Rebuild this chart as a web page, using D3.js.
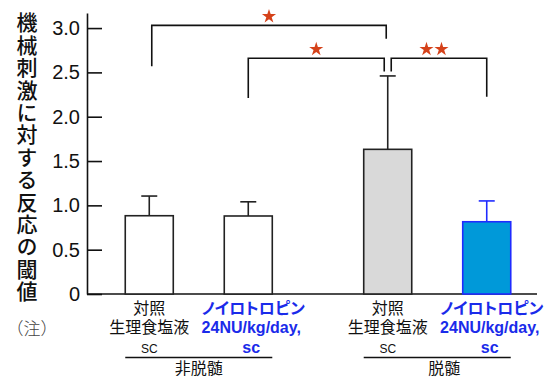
<!DOCTYPE html>
<html><head><meta charset="utf-8">
<script src="https://cdn.jsdelivr.net/npm/d3@7"></script>
<style>
body{margin:0;background:#fff}
svg{display:block}
</style></head><body>
<svg id="c" width="546" height="378"></svg>
<script>
// ---- data ----
const groups = ["非脱髄", "脱髄"];
const barGroup = [0, 0, 1, 1];
const barSlot = [0, 1, 0, 1];
const means = [0.883, 0.88, 1.632, 0.815];
const errors = [0.222, 0.16, 0.828, 0.235];
const labelLine1 = ["対照", "ノイロトロピン", "対照", "ノイロトロピン"];
const labelLine2 = ["生理食塩液", "24NU/kg/day,", "生理食塩液", "24NU/kg/day,"];
const labelLine3 = ["SC", "sc", "SC", "sc"];
const yTicks = [0, 0.5, 1, 1.5, 2, 2.5, 3];
const yTitle = "機械刺激に対する反応の閾値";
const note = "（注）";
const bracketFrom = [0, 1, 2];
const bracketTo = [2, 2, 3];
const bracketTop = [3.03, 2.66, 2.66];
const bracketLeftEnd = [2.57, 2.21, 2.51];
const bracketRightEnd = [2.88, 2.51, 2.225];
const bracketStars = [1, 1, 2];

// ---- styles ----
const barFill = ["#ffffff", "#ffffff", "#d9d9d9", "#0099d9"];
const barStroke = ["#222222", "#222222", "#222222", "#1f2bff"];
const blue = "#1a2bea";
const labelIsBlue = [false, true, false, true];
const bracketLeftOff = [2.5, 0, 3.5];
const bracketRightOff = [-1.5, -3.5, 0];
const JP = '"Noto Sans CJK JP", sans-serif';
const LAT = '"Liberation Sans", Arial, sans-serif';

const svg = d3.select("#c");

const y = d3.scaleLinear().domain([0, 3.17]).range([294, 13]);
const x0 = d3.scaleBand().domain(groups).range([101, 535]).paddingInner(0.18);
const x1 = d3.scaleBand().domain([0, 1]).range([0, x0.bandwidth()]).paddingInner(0.515).paddingOuter(0.245);
const bw = x1.bandwidth();
const barX = i => x0(groups[barGroup[i]]) + x1(barSlot[i]);
const cx = i => barX(i) + bw / 2;
const idx = means.map((_, i) => i);

// y axis
const axisX = 87;
const ax = svg.append("g").attr("transform", `translate(${axisX},0)`)
  .call(d3.axisLeft(y).tickValues(yTicks).tickSize(-15).tickSizeOuter(0).tickPadding(7)
    .tickFormat(d => d === 0 ? "0" : d3.format(".1f")(d)));
ax.selectAll("path,line").attr("stroke", "#111").attr("stroke-width", 1.6);
ax.selectAll("text").attr("font-family", LAT).attr("font-size", 20).attr("fill", "#111");

// baseline
svg.append("line").attr("x1", axisX).attr("x2", 537).attr("y1", y(0)).attr("y2", y(0))
  .attr("stroke", "#111").attr("stroke-width", 1.6);

// error bars
const eb = svg.append("g");
idx.forEach(i => {
  const c = cx(i);
  eb.append("line").attr("x1", c).attr("x2", c).attr("y1", y(means[i])).attr("y2", y(means[i] + errors[i]))
    .attr("stroke", barStroke[i]).attr("stroke-width", 1.6);
  eb.append("line").attr("x1", c - 8).attr("x2", c + 8).attr("y1", y(means[i] + errors[i])).attr("y2", y(means[i] + errors[i]))
    .attr("stroke", barStroke[i]).attr("stroke-width", 1.6);
});

// bars
svg.append("g").selectAll("rect").data(idx).join("rect")
  .attr("x", i => barX(i)).attr("width", bw)
  .attr("y", i => y(means[i])).attr("height", i => y(0) - y(means[i]))
  .attr("fill", i => barFill[i]).attr("stroke", i => barStroke[i]).attr("stroke-width", 1.6);

// brackets
const br = svg.append("g");
bracketFrom.forEach((f, k) => {
  const xl = cx(f) + bracketLeftOff[k], xr = cx(bracketTo[k]) + bracketRightOff[k];
  br.append("path")
    .attr("d", `M${xl},${y(bracketLeftEnd[k])}V${y(bracketTop[k])}H${xr}V${y(bracketRightEnd[k])}`)
    .attr("fill", "none").attr("stroke", "#111").attr("stroke-width", 1.6);
  const mid = (xl + xr) / 2;
  const n = bracketStars[k];
  for (let s = 0; s < n; s++) {
    const sx = mid + (s - (n - 1) / 2) * 15 - (n > 1 ? 5 : 0);
    br.append("path").attr("d", d3.symbol().type(d3.symbolStar).size(62)())
      .attr("transform", `translate(${sx},${y(bracketTop[k]) - 9})`)
      .attr("fill", "#d5421a");
  }
});

// y title (vertical)
svg.append("text").text(yTitle)
  .attr("x", 27).attr("y", 12)
  .attr("writing-mode", "vertical-rl")
  .attr("font-family", JP).attr("font-size", 21).attr("font-weight", 500)
  .attr("letter-spacing", 1.4).attr("fill", "#111");

svg.append("text").text(note).attr("x", 32).attr("y", 335).attr("text-anchor", "middle")
  .attr("font-family", JP).attr("font-size", 17).attr("font-weight", 300).attr("fill", "#444");

// x labels
const lab = svg.append("g");
idx.forEach(i => {
  const c = cx(i);
  const b = labelIsBlue[i];
  lab.append("text").text(labelLine1[i]).attr("x", c + (b ? 5 : 0)).attr("y", 314).attr("text-anchor", "middle")
    .attr("font-family", JP).attr("font-size", 16).attr("font-weight", b ? 700 : 400)
    .style("font-feature-settings", b ? '"palt"' : null)
    .attr("fill", b ? blue : "#111");
  lab.append("text").text(labelLine2[i]).attr("x", c + (b ? 3 : 0)).attr("y", 333).attr("text-anchor", "middle")
    .attr("font-family", b ? LAT : JP).attr("font-size", 16).attr("font-weight", b ? 700 : 400)
    .attr("fill", b ? blue : "#111");
  lab.append("text").text(labelLine3[i]).attr("x", c + (b ? 3 : 0)).attr("y", 352.5).attr("text-anchor", "middle")
    .attr("font-family", LAT).attr("font-size", b ? 16 : 12).attr("font-weight", b ? 700 : 400)
    .attr("fill", b ? blue : "#111");
});

// group underline + labels
groups.forEach((g, gi) => {
  const members = idx.filter(i => barGroup[i] === gi);
  const xa = barX(members[0]), xb = barX(members[members.length - 1]) + bw;
  svg.append("line").attr("x1", xa).attr("x2", xb).attr("y1", 357.5).attr("y2", 357.5)
    .attr("stroke", "#111").attr("stroke-width", 1.6);
  svg.append("text").text(g).attr("x", (xa + xb) / 2 + (gi === 1 ? 7 : 0)).attr("y", 374)
    .attr("text-anchor", "middle").attr("font-family", JP).attr("font-size", 16).attr("fill", "#111");
});
</script>
</body></html>
